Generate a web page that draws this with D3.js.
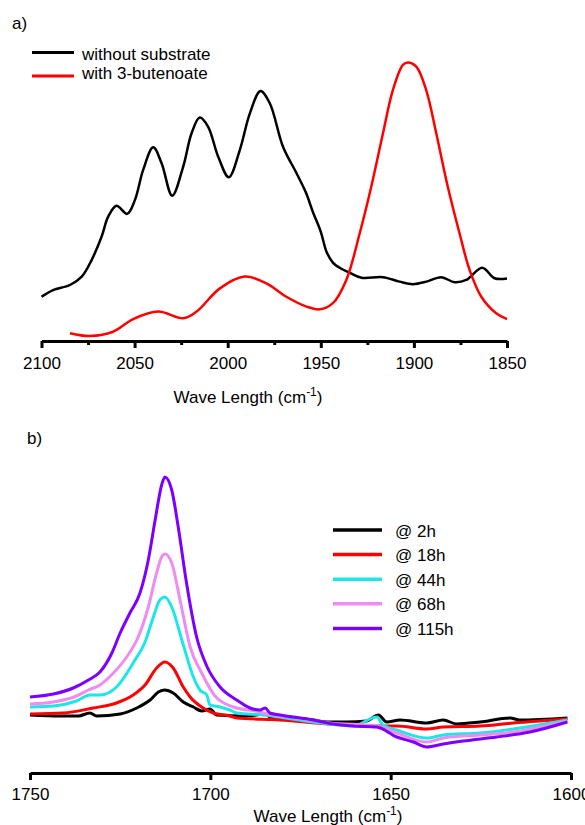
<!DOCTYPE html>
<html>
<head>
<meta charset="utf-8">
<script src="https://cdn.jsdelivr.net/npm/d3@7/dist/d3.min.js"></script>
<style>
body { margin: 0; background: #fff; }
svg text { font-family: "Liberation Sans", Arial, sans-serif; fill: #000; }
</style>
</head>
<body>
<svg id="chart" width="585" height="825"></svg>
<script>
/* panel a: carbonyl region, [wavenumber, absorbance] */
var A_TICKS = [2100, 2050, 2000, 1950, 1900, 1850];
var A_MINOR = [2075, 2025, 1975, 1925, 1875];
var A_LABELS = ['without substrate', 'with 3-butenoate'];
var A_COLORS = ['#000000', '#ff0000'];

var aWithout = [
    [2100, 0.158], [2093.8, 0.182], [2084.7, 0.200], [2078.4, 0.230], [2073.1, 0.289],
    [2067.7, 0.373], [2064.2, 0.444], [2059.7, 0.483], [2054.0, 0.454], [2049.8, 0.504],
    [2045.4, 0.611], [2040.0, 0.692], [2035.5, 0.635], [2029.8, 0.519], [2023.9, 0.623],
    [2019.4, 0.742], [2015.0, 0.798], [2010.5, 0.765], [2005.1, 0.658], [1999.4, 0.585],
    [1993.5, 0.682], [1988.1, 0.813], [1982.4, 0.893], [1977.4, 0.849], [1970.3, 0.694],
    [1963.1, 0.600], [1958.0, 0.530], [1954.2, 0.460], [1950.0, 0.390], [1947.0, 0.320],
    [1943.5, 0.280], [1939.0, 0.258], [1934.5, 0.244], [1928.2, 0.226], [1916.6, 0.228],
    [1907.7, 0.212], [1900.5, 0.203], [1893.3, 0.212], [1885.3, 0.228], [1878.2, 0.210],
    [1871.9, 0.218], [1863.3, 0.262], [1856.7, 0.224], [1850.0, 0.223]
];
var aButenoate = [
    [2084.7, 0.028], [2074.0, 0.018], [2061.6, 0.033], [2050.8, 0.078], [2037.3, 0.105],
    [2023.9, 0.081], [2016.7, 0.105], [2004.2, 0.188], [1990.8, 0.230], [1979.2, 0.206],
    [1968.5, 0.158], [1957.7, 0.123], [1950.6, 0.113], [1943.5, 0.135], [1936.3, 0.218],
    [1929.1, 0.385], [1922.9, 0.551], [1916.6, 0.742], [1911.3, 0.896], [1905.9, 0.986],
    [1903.2, 0.995], [1898.7, 0.980], [1893.4, 0.896], [1888.0, 0.742], [1881.8, 0.551],
    [1875.5, 0.385], [1870.1, 0.254], [1863.8, 0.158], [1855.8, 0.099], [1850.0, 0.078]
];

/* panel b: time course, [wavenumber, absorbance] */
var B_TICKS = [1750, 1700, 1650, 1600];
var B_LABELS = ['@ 2h', '@ 18h', '@ 44h', '@ 68h', '@ 115h'];
var B_COLORS = ['#000000', '#ff0000', '#1ee6e6', '#f08cf0', '#7b00ff'];

var b2h = [
    [1750, 0.15], [1741.7, 0.14], [1736.6, 0.14], [1733.4, 0.17], [1731.5, 0.14],
    [1725.0, 0.16], [1720.4, 0.22], [1716.7, 0.30], [1714.4, 0.38], [1712.6, 0.40],
    [1710.3, 0.37], [1707.5, 0.28], [1704.7, 0.23], [1702.4, 0.19], [1700.1, 0.21],
    [1698.2, 0.15], [1689.9, 0.14], [1684.8, 0.16], [1683.5, 0.13], [1671.5, 0.10],
    [1667.7, 0.08], [1662.2, 0.08], [1656.7, 0.09], [1653.4, 0.15], [1651.1, 0.08],
    [1647.4, 0.10], [1640.0, 0.07], [1635.4, 0.10], [1631.7, 0.06], [1625.2, 0.08],
    [1616.9, 0.12], [1614.2, 0.10], [1601, 0.12]
];
var b18h = [
    [1750, 0.16], [1740.8, 0.17], [1732.5, 0.22], [1726.0, 0.27], [1721.4, 0.35],
    [1718.1, 0.45], [1714.9, 0.62], [1712.6, 0.68], [1710.3, 0.62], [1707.5, 0.43],
    [1705.6, 0.33], [1702.0, 0.22], [1699.2, 0.17], [1694.6, 0.14], [1692.7, 0.12],
    [1680.7, 0.10], [1666.8, 0.06], [1653.9, 0.04], [1648.3, 0.04], [1640.0, 0.01],
    [1635.4, 0.03], [1625.2, 0.04], [1616.0, 0.07], [1601, 0.11]
];
var b44h = [
    [1750, 0.23], [1743.5, 0.24], [1737.1, 0.29], [1733.4, 0.35], [1730.6, 0.35],
    [1726.0, 0.43], [1721.4, 0.67], [1718.1, 0.88], [1715.8, 1.13], [1714.0, 1.30],
    [1712.6, 1.33], [1710.7, 1.23], [1707.9, 0.90], [1704.7, 0.53], [1702.9, 0.40],
    [1701.0, 0.35], [1700.1, 0.25], [1697.3, 0.23], [1694.6, 0.20], [1692.7, 0.17],
    [1685.3, 0.15], [1671.5, 0.08], [1660.4, 0.04], [1653.9, 0.13], [1652.1, 0.05],
    [1648.3, 0.00], [1640.0, -0.08], [1635.4, -0.05], [1625.2, -0.03], [1616.0, 0.01],
    [1601, 0.10]
];
var b68h = [
    [1750, 0.26], [1743.5, 0.28], [1737.1, 0.34], [1733.8, 0.40], [1730.6, 0.45],
    [1726.9, 0.57], [1723.2, 0.73], [1720.0, 0.93], [1717.2, 1.23], [1714.9, 1.57],
    [1713.5, 1.73], [1712.6, 1.76], [1710.7, 1.67], [1708.4, 1.30], [1705.6, 0.83],
    [1702.4, 0.57], [1698.7, 0.34], [1693.6, 0.23], [1686.2, 0.18], [1685.3, 0.17],
    [1676.1, 0.12], [1666.8, 0.07], [1653.9, 0.04], [1648.3, -0.03], [1640.0, -0.12],
    [1635.4, -0.08], [1625.2, -0.05], [1616.0, -0.02], [1601, 0.09]
];
var b115h = [
    [1750, 0.33], [1743.5, 0.36], [1738.0, 0.42], [1733.8, 0.50], [1730.6, 0.58],
    [1727.3, 0.77], [1725.0, 0.97], [1722.3, 1.17], [1719.5, 1.37], [1717.2, 1.70],
    [1715.3, 2.10], [1713.5, 2.45], [1712.6, 2.53], [1710.7, 2.40], [1708.9, 2.03],
    [1706.6, 1.47], [1703.8, 0.93], [1701.0, 0.64], [1697.3, 0.43], [1692.7, 0.30],
    [1689.0, 0.22], [1686.2, 0.20], [1684.8, 0.22], [1683.5, 0.17], [1680.7, 0.15],
    [1671.5, 0.10], [1665.9, 0.06], [1660.4, 0.04], [1653.9, 0.03], [1648.3, -0.07],
    [1643.7, -0.12], [1640.0, -0.17], [1635.4, -0.14], [1629.9, -0.11], [1620.6, -0.07],
    [1611.4, -0.02], [1601, 0.08]
];

var svg = d3.select('#chart');
var FONT = 17;

function drawAxis(g, scale, ticks, padding) {
    g.call(d3.axisBottom(scale).tickValues(ticks).tickSize(7).tickSizeOuter(0)
        .tickPadding(padding).tickFormat(d3.format('d')));
    g.select('.domain').attr('stroke', '#000').attr('stroke-width', 3);
    g.selectAll('.tick line').attr('stroke', '#000').attr('stroke-width', 3);
    g.selectAll('.tick text').attr('font-size', FONT).attr('fill', '#000')
        .style('font-family', '"Liberation Sans", Arial, sans-serif');
}

function axisTitle(x, y) {
    var t = svg.append('text').attr('x', x).attr('y', y).attr('text-anchor', 'middle')
        .attr('font-size', FONT);
    t.append('tspan').text('Wave Length (cm');
    t.append('tspan').attr('dy', -7).attr('font-size', 12).text('-1');
    t.append('tspan').attr('dy', 7).text(')');
}

/* ---- panel a ---- */
var xA = d3.scaleLinear().domain([2100, 1850]).range([41.5, 507]);
var yA = d3.scaleLinear().domain([0, 1]).range([341, 61]);

svg.append('text').attr('x', 12).attr('y', 29).attr('font-size', FONT).text('a)');

var lineA = d3.line()
    .x(function(d) { return xA(d[0]); })
    .y(function(d) { return yA(d[1]); })
    .curve(d3.curveCatmullRom.alpha(0.5));

[aWithout, aButenoate].forEach(function(s, i) {
    svg.append('path').datum(s).attr('d', lineA)
        .attr('fill', 'none').attr('stroke', A_COLORS[i]).attr('stroke-width', 2.5);
});

var gA = svg.append('g').attr('transform', 'translate(0,341)');
drawAxis(gA, xA, A_TICKS, 9);
var gAm = svg.append('g').attr('transform', 'translate(0,341)');
gAm.call(d3.axisBottom(xA).tickValues(A_MINOR).tickSize(4).tickFormat(''));
gAm.select('.domain').remove();
gAm.selectAll('.tick line').attr('stroke', '#000').attr('stroke-width', 3);
axisTitle(248, 403);

var legA = svg.append('g');
[52.5, 76].forEach(function(ly, i) {
    legA.append('line').attr('x1', 32).attr('x2', 74).attr('y1', ly).attr('y2', ly)
        .attr('stroke', A_COLORS[i]).attr('stroke-width', 3);
});
legA.append('text').attr('x', 82).attr('y', 60).attr('font-size', FONT).text(A_LABELS[0]);
legA.append('text').attr('x', 82).attr('y', 78.5).attr('font-size', FONT).text(A_LABELS[1]);

/* ---- panel b ---- */
var xB = d3.scaleLinear().domain([1750, 1600]).range([30, 571]);
var yB = d3.scaleLinear().domain([0, 2.9]).range([730, 440]);

svg.append('text').attr('x', 27).attr('y', 444).attr('font-size', FONT).text('b)');

var lineB = d3.line()
    .x(function(d) { return xB(d[0]); })
    .y(function(d) { return yB(d[1]); })
    .curve(d3.curveMonotoneX);

[b2h, b18h, b44h, b68h, b115h].forEach(function(s, i) {
    svg.append('path').datum(s).attr('d', lineB)
        .attr('fill', 'none').attr('stroke', B_COLORS[i]).attr('stroke-width', 3)
        .attr('stroke-linejoin', 'round');
});

var gB = svg.append('g').attr('transform', 'translate(0,773)');
drawAxis(gB, xB, B_TICKS, 8);
axisTitle(328, 822);

var legB = svg.append('g');
B_LABELS.forEach(function(lbl, i) {
    var ly = 530 + i * 24.6;
    legB.append('line').attr('x1', 333).attr('x2', 382).attr('y1', ly).attr('y2', ly)
        .attr('stroke', B_COLORS[i]).attr('stroke-width', 3.5);
    legB.append('text').attr('x', 395).attr('y', ly + 6.5).attr('font-size', FONT).text(lbl);
});
</script>
</body>
</html>
